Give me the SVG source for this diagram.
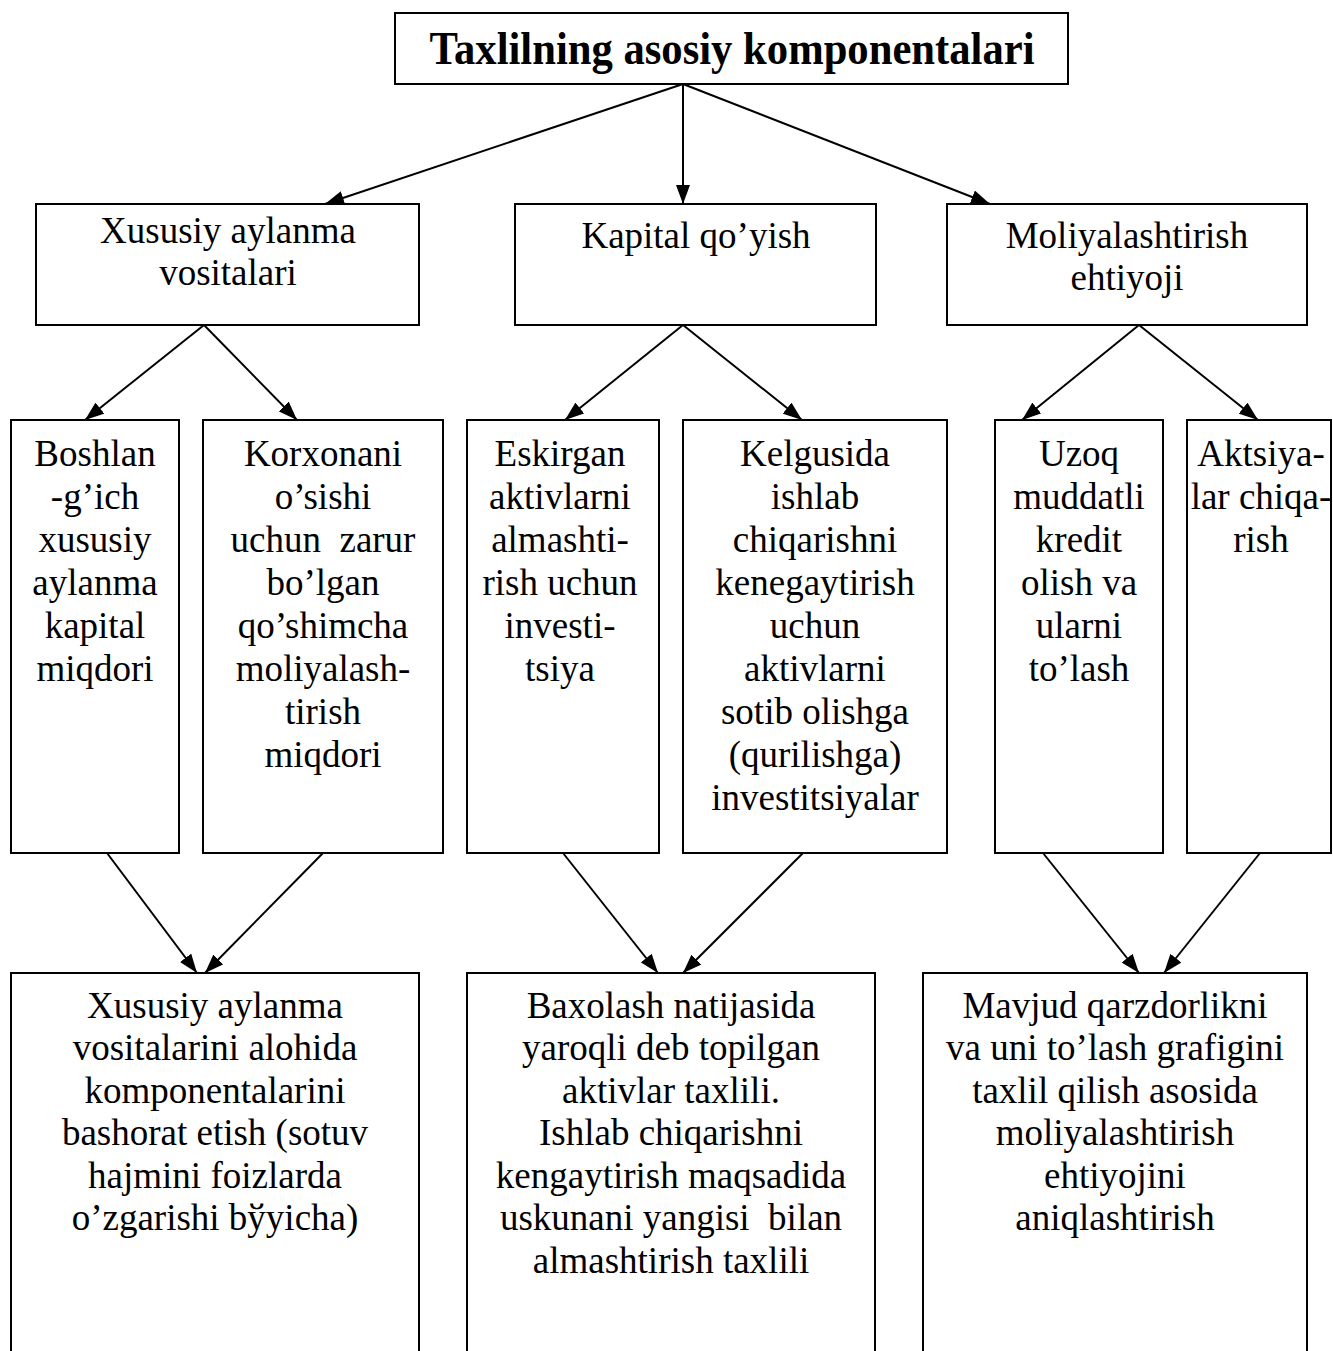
<svg xmlns="http://www.w3.org/2000/svg" width="1333" height="1351" viewBox="0 0 1333 1351">
<style>
.box{fill:#fff;stroke:#000;stroke-width:2}
.t{font-family:"Liberation Serif","Times New Roman",serif;font-size:37px;fill:#000;text-anchor:middle}
.title{font-family:"Liberation Serif","Times New Roman",serif;font-size:46px;font-weight:bold;fill:#000;text-anchor:middle}
.c{stroke:#000;stroke-width:2;fill:none;marker-end:url(#ah)}
</style>
<defs>
<marker id="ah" viewBox="0 0 10 10" refX="10" refY="5" markerWidth="19" markerHeight="14" markerUnits="userSpaceOnUse" orient="auto" preserveAspectRatio="none">
<path d="M0,0 L10,5 L0,10 z" fill="#000"/>
</marker>
</defs>
<rect width="1333" height="1351" fill="#fff"/>
<g id="title">
<rect class="box" x="395" y="13" width="673" height="71"/>
<text class="title" x="732" y="64" textLength="605" lengthAdjust="spacingAndGlyphs">Taxlilning asosiy komponentalari</text>
</g>
<g id="n-xususiy">
<rect class="box" x="36" y="204" width="383" height="121"/>
<text class="t" x="228" y="243">Xususiy aylanma</text>
<text class="t" x="228" y="285">vositalari</text>
</g>
<g id="n-kapital">
<rect class="box" x="515" y="204" width="361" height="121"/>
<text class="t" x="696" y="248">Kapital qo’yish</text>
</g>
<g id="n-moliya">
<rect class="box" x="947" y="204" width="360" height="121"/>
<text class="t" x="1127" y="248">Moliyalashtirish</text>
<text class="t" x="1127" y="290">ehtiyoji</text>
</g>
<g id="n-b1">
<rect class="box" x="11" y="420" width="168" height="433"/>
<text class="t" x="95" y="466">Boshlan</text>
<text class="t" x="95" y="509">-g’ich</text>
<text class="t" x="95" y="552">xususiy</text>
<text class="t" x="95" y="595">aylanma</text>
<text class="t" x="95" y="638">kapital</text>
<text class="t" x="95" y="681">miqdori</text>
</g>
<g id="n-b2">
<rect class="box" x="203" y="420" width="240" height="433"/>
<text class="t" x="323" y="466">Korxonani</text>
<text class="t" x="323" y="509">o’sishi</text>
<text class="t" x="323" y="552" xml:space="preserve">uchun  zarur</text>
<text class="t" x="323" y="595">bo’lgan</text>
<text class="t" x="323" y="638">qo’shimcha</text>
<text class="t" x="323" y="681">moliyalash-</text>
<text class="t" x="323" y="724">tirish</text>
<text class="t" x="323" y="767">miqdori</text>
</g>
<g id="n-b3">
<rect class="box" x="467" y="420" width="192" height="433"/>
<text class="t" x="560" y="466">Eskirgan</text>
<text class="t" x="560" y="509">aktivlarni</text>
<text class="t" x="560" y="552">almashti-</text>
<text class="t" x="560" y="595">rish uchun</text>
<text class="t" x="560" y="638">investi-</text>
<text class="t" x="560" y="681">tsiya</text>
</g>
<g id="n-b4">
<rect class="box" x="683" y="420" width="264" height="433"/>
<text class="t" x="815" y="466">Kelgusida</text>
<text class="t" x="815" y="509">ishlab</text>
<text class="t" x="815" y="552">chiqarishni</text>
<text class="t" x="815" y="595">kenegaytirish</text>
<text class="t" x="815" y="638">uchun</text>
<text class="t" x="815" y="681">aktivlarni</text>
<text class="t" x="815" y="724">sotib olishga</text>
<text class="t" x="815" y="767">(qurilishga)</text>
<text class="t" x="815" y="810">investitsiyalar</text>
</g>
<g id="n-b5">
<rect class="box" x="995" y="420" width="168" height="433"/>
<text class="t" x="1079" y="466">Uzoq</text>
<text class="t" x="1079" y="509">muddatli</text>
<text class="t" x="1079" y="552">kredit</text>
<text class="t" x="1079" y="595">olish va</text>
<text class="t" x="1079" y="638">ularni</text>
<text class="t" x="1079" y="681">to’lash</text>
</g>
<g id="n-b6">
<rect class="box" x="1187" y="420" width="144" height="433"/>
<text class="t" x="1261" y="466">Aktsiya-</text>
<text class="t" x="1261" y="509">lar chiqa-</text>
<text class="t" x="1261" y="552">rish</text>
</g>
<g id="n-d1">
<rect class="box" x="11" y="973" width="408" height="400"/>
<text class="t" x="215" y="1018">Xususiy aylanma</text>
<text class="t" x="215" y="1060">vositalarini alohida</text>
<text class="t" x="215" y="1103">komponentalarini</text>
<text class="t" x="215" y="1145">bashorat etish (sotuv</text>
<text class="t" x="215" y="1188">hajmini foizlarda</text>
<text class="t" x="215" y="1230">o’zgarishi bўyicha)</text>
</g>
<g id="n-d2">
<rect class="box" x="467" y="973" width="408" height="400"/>
<text class="t" x="671" y="1018">Baxolash natijasida</text>
<text class="t" x="671" y="1060">yaroqli deb topilgan</text>
<text class="t" x="671" y="1103">aktivlar taxlili.</text>
<text class="t" x="671" y="1145">Ishlab chiqarishni</text>
<text class="t" x="671" y="1188">kengaytirish maqsadida</text>
<text class="t" x="671" y="1230" xml:space="preserve">uskunani yangisi  bilan</text>
<text class="t" x="671" y="1273">almashtirish taxlili</text>
</g>
<g id="n-d3">
<rect class="box" x="923" y="973" width="384" height="400"/>
<text class="t" x="1115" y="1018">Mavjud qarzdorlikni</text>
<text class="t" x="1115" y="1060">va uni to’lash grafigini</text>
<text class="t" x="1115" y="1103">taxlil qilish asosida</text>
<text class="t" x="1115" y="1145">moliyalashtirish</text>
<text class="t" x="1115" y="1188">ehtiyojini</text>
<text class="t" x="1115" y="1230">aniqlashtirish</text>
</g>
<g id="connectors">
<line class="c" x1="683" y1="84" x2="325" y2="204"/>
<line class="c" x1="683" y1="84" x2="683" y2="204"/>
<line class="c" x1="683" y1="84" x2="990" y2="204"/>
<line class="c" x1="204" y1="325" x2="85" y2="420"/>
<line class="c" x1="204" y1="325" x2="297" y2="420"/>
<line class="c" x1="683" y1="325" x2="565" y2="420"/>
<line class="c" x1="683" y1="325" x2="802" y2="420"/>
<line class="c" x1="1139" y1="325" x2="1022" y2="420"/>
<line class="c" x1="1139" y1="325" x2="1258" y2="420"/>
<line class="c" x1="107" y1="853" x2="197" y2="973"/>
<line class="c" x1="323" y1="853" x2="205" y2="973"/>
<line class="c" x1="563" y1="853" x2="658" y2="973"/>
<line class="c" x1="803" y1="853" x2="683" y2="973"/>
<line class="c" x1="1043" y1="853" x2="1139" y2="973"/>
<line class="c" x1="1260" y1="853" x2="1164" y2="973"/>
</g>
</svg>
